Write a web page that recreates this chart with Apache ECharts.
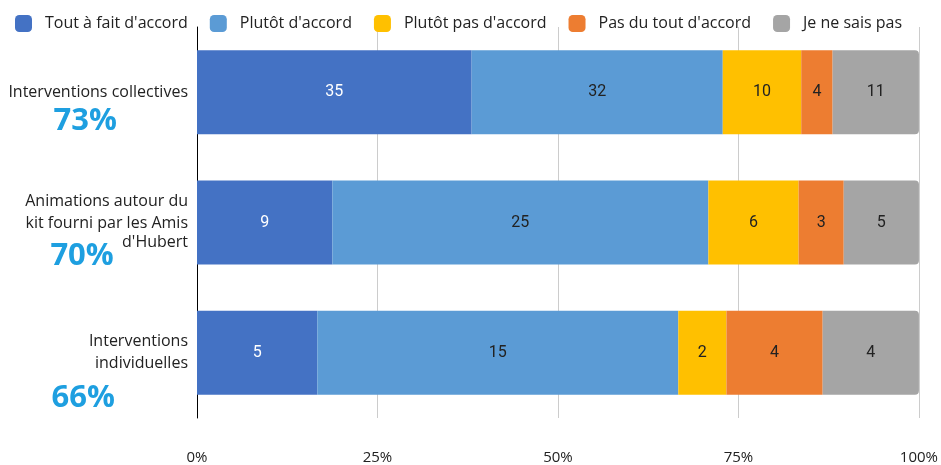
<!DOCTYPE html>
<html>
<head>
<meta charset="utf-8">
<script src="https://cdn.jsdelivr.net/npm/echarts@6/dist/echarts.min.js"></script>
<style>
    html, body { margin: 0; padding: 0; background: #fff; }
    #main { width: 941px; height: 465px; }
</style>
</head>
<body>
<div id="main"></div>
<script>
    // categories (top to bottom)
    var categories = ['Interventions collectives', 'Animations autour du kit fourni par les Amis d\'Hubert', 'Interventions individuelles'];
    var agreeShare = ['73%', '70%', '66%'];

    // counts per answer
    var seriesNames = ['Tout à fait d\'accord', 'Plutôt d\'accord', 'Plutôt pas d\'accord', 'Pas du tout d\'accord', 'Je ne sais pas'];
    var toutAFait = [35, 9, 5];
    var plutot = [32, 25, 15];
    var plutotPas = [10, 6, 2];
    var pasDuTout = [4, 3, 4];
    var neSaisPas = [11, 5, 4];
    var xTicks = ['0%', '25%', '50%', '75%', '100%'];

    var colors = ['#4472C4', '#5B9BD5', '#FFC000', '#ED7D31', '#A5A5A5'];
    var counts = [toutAFait, plutot, plutotPas, pasDuTout, neSaisPas];

    var totals = categories.map(function (c, i) {
        return counts.reduce(function (s, arr) { return s + arr[i]; }, 0);
    });

    var chartDom = document.getElementById('main');
    var myChart = echarts.init(chartDom);

    var labelFormats = [
        '{b37| }\n{n|Interventions collectives}\n{p37|' + agreeShare[0] + '}',
        '{b24| }\n{n|Animations autour du}\n{n|kit fourni par les Amis}\n{p44|' + agreeShare[1] + '}{nt|  d\'Hubert}',
        '{b46| }\n{n|Interventions}\n{n|individuelles}\n{p46|' + agreeShare[2] + '}'
    ];

    var series = counts.map(function (arr, k) {
        return {
            name: seriesNames[k],
            type: 'bar',
            stack: 'total',
            barWidth: 84,
            itemStyle: {
                color: colors[k],
                borderRadius: k === 4 ? [0, 4, 4, 0] : 0
            },
            label: {
                show: true,
                position: 'inside',
                fontFamily: 'Roboto',
                fontSize: 16,
                color: k === 0 ? '#fff' : '#222',
                formatter: function (p) { return arr[p.dataIndex]; }
            },
            data: arr.map(function (v, i) { return v / totals[i] * 100; })
        };
    });

    var pctStyle = function (h, pad) {
        return { fontFamily: 'Open Sans', fontSize: 31, fontWeight: 'bold', color: '#1E9FE0', lineHeight: h, padding: [0, pad, 0, 0] };
    };

    var option = {
        animation: false,
        color: colors,
        legend: {
            top: 10,
            left: 10,
            itemWidth: 17,
            itemHeight: 17,
            itemGap: 22,
            icon: 'roundRect',
            textStyle: { fontFamily: 'Open Sans', fontSize: 16, color: '#222', padding: [0, 0, 0, 8] },
            data: seriesNames
        },
        grid: { left: 197, right: 20, top: 27, bottom: 46 },
        xAxis: {
            type: 'value',
            min: 0,
            max: 100,
            interval: 25,
            axisLine: { show: false },
            axisTick: { show: false },
            splitLine: { lineStyle: { color: '#cccccc' } },
            axisLabel: {
                margin: 32,
                fontFamily: 'Open Sans',
                fontSize: 15,
                color: '#222',
                formatter: function (v) { return xTicks[v / 25]; }
            }
        },
        yAxis: {
            type: 'category',
            inverse: true,
            data: categories,
            axisLine: { lineStyle: { color: '#000' } },
            axisTick: { show: false },
            axisLabel: {
                margin: 9,
                align: 'right',
                formatter: function (v, i) { return labelFormats[i]; },
                rich: {
                    n: { fontFamily: 'Open Sans', fontSize: 16, color: '#222', lineHeight: 22, align: 'right' },
                    nt: { fontFamily: 'Open Sans', fontSize: 16, color: '#222', lineHeight: 22, verticalAlign: 'top' },
                    b24: { lineHeight: 24, fontSize: 10 },
                    b37: { lineHeight: 37, fontSize: 10 },
                    b46: { lineHeight: 46, fontSize: 10 },
                    p37: pctStyle(37, 71),
                    p44: pctStyle(44, 0),
                    p46: pctStyle(46, 73)
                }
            }
        },
        series: series
    };

    option && myChart.setOption(option);
</script>
</body>
</html>
